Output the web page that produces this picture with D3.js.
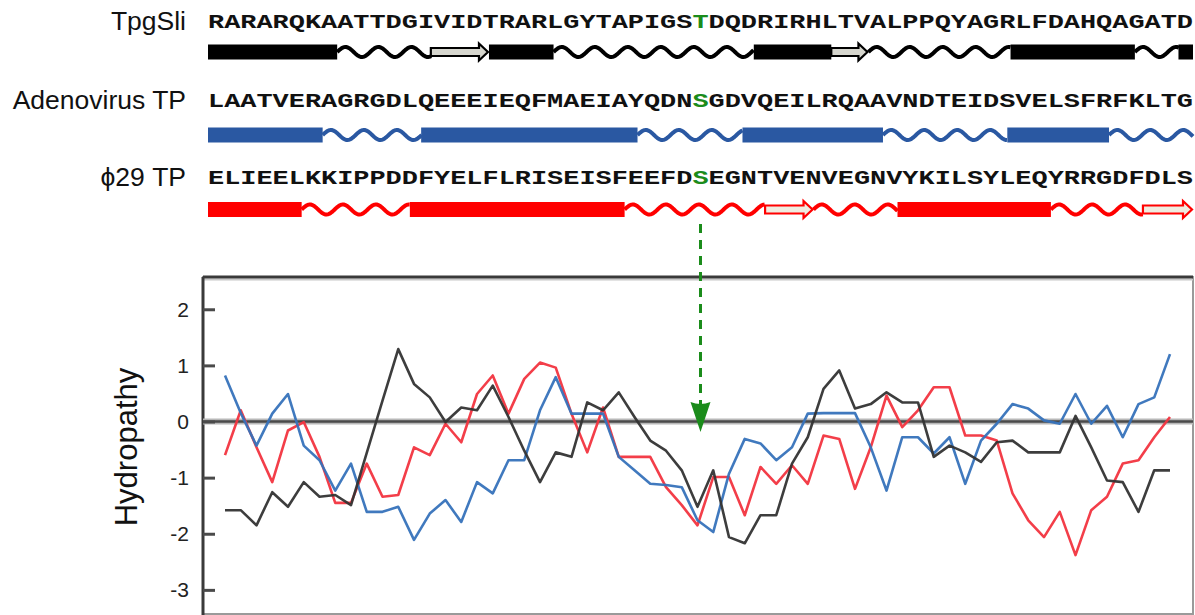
<!DOCTYPE html>
<html>
<head>
<meta charset="utf-8">
<script src="https://cdn.jsdelivr.net/npm/d3@7/dist/d3.min.js"></script>
<style>
  html, body { margin: 0; padding: 0; background: #fff; }
  svg { display: block; }
</style>
</head>
<body>
<svg id="chart" width="1195" height="615"></svg>
<script>
// ---------------- DATA ----------------
const rowLabels = ["TpgSli", "Adenovirus TP", "\u03D529 TP"];
const seqTpgSli = "RARARQKAATTDGIVIDTRARLGYTAPIGSTDQDRIRHLTVALPPQYAGRLFDAHQAGATD";
const seqAdeno  = "LAATVERAGRGDLQEEEIEQFMAEIAYQDNSGDVQEILRQAAVNDTEIDSVELSFRFKLTG";
const seqPhi29  = "ELIEELKKIPPDDFYELFLRISEISFEEFDSEGNTVENVEGNVYKILSYLEQYRRGDFDLS";
const primingIndex = 30; // 0-based: residue 31 (T / S / S) highlighted in green

// secondary structure: [type, startResidue, endResidue]  H = helix, C = coil, E = strand
const ssTpgSli = [["H",0,8],["C",8,13.8],["E",13.8,17.4],["H",17.4,21.4],["C",21.4,33.8],["H",33.8,38.6],["E",38.6,40.9],["C",40.9,49.7],["H",49.7,57.4],["C",57.4,60.1],["H",60.1,61]];
const ssAdeno   = [["H",0,7.1],["C",7.1,13.2],["H",13.2,26.6],["C",26.6,33.1],["H",33.1,41.8],["C",41.8,49.5],["H",49.5,55.8],["C",55.8,61]];
const ssPhi29   = [["H",0,5.8],["C",5.8,12.5],["H",12.5,25.8],["C",25.8,34.5],["E",34.5,37.5],["C",37.5,42.7],["H",42.7,52.2],["C",52.2,57.9],["E",57.9,61]];

// hydropathy profiles (one value per window position)
const hydroTpgSli = [-1.58,-1.58,-1.85,-1.26,-1.52,-1.08,-1.34,-1.31,-1.49,-0.56,0.37,1.29,0.67,0.43,-0.01,0.25,0.2,0.64,0.08,-0.52,-1.08,-0.55,-0.63,0.34,0.2,0.52,0.08,-0.34,-0.52,-0.87,-1.52,-0.87,-2.06,-2.17,-1.67,-1.67,-0.75,-0.28,0.58,0.91,0.23,0.31,0.52,0.34,0.34,-0.63,-0.43,-0.55,-0.72,-0.37,-0.34,-0.55,-0.55,-0.55,0.1,-0.46,-1.05,-1.08,-1.61,-0.87,-0.87];
const hydroAdeno   = [0.82,0.15,-0.43,0.14,0.49,-0.43,-0.69,-1.23,-0.75,-1.61,-1.61,-1.52,-2.11,-1.64,-1.4,-1.79,-1.08,-1.28,-0.69,-0.69,0.2,0.79,0.14,0.14,0.14,-0.63,-0.87,-1.11,-1.13,-1.17,-1.76,-1.97,-0.93,-0.31,-0.39,-0.69,-0.46,0.14,0.15,0.15,0.15,-0.46,-1.23,-0.28,-0.28,-0.57,-0.28,-1.11,-0.34,-0.04,0.31,0.23,0.02,-0.04,0.49,-0.04,0.28,-0.28,0.31,0.43,1.2];
const hydroPhi29   = [-0.6,0.2,-0.46,-1.08,-0.16,-0.01,-0.63,-1.45,-1.45,-0.75,-1.34,-1.31,-0.46,-0.6,-0.04,-0.37,0.49,0.82,0.14,0.76,1.05,0.96,0.14,-0.55,0.25,-0.63,-0.63,-0.63,-1.17,-1.49,-1.85,-0.99,-0.99,-1.67,-0.81,-1.11,-0.78,-1.11,-0.25,-0.31,-1.2,-0.46,0.46,-0.1,0.2,0.61,0.61,-0.25,-0.25,-0.34,-1.28,-1.76,-2.06,-1.61,-2.38,-1.58,-1.34,-0.75,-0.69,-0.28,0.08];
const yTicks = [-3, -2, -1, 0, 1, 2];
const yLabel = "Hydropathy";

// ---------------- STYLE / LAYOUT ----------------
const colors = { tpg: "#000000", adeno: "#2a58a2", phi: "#ff0000" };
const lineColors = { tpg: "#333333", adeno: "#3672bb", phi: "#f2343f" };
const strandFill = { tpg: "#d6d6ce", adeno: "#e8e8e0", phi: "#efece0" };
const green = "#1b8c1b";

const svg = d3.select("#chart");
const seqX = d3.scaleLinear().domain([0, 61]).range([208, 1193]);

const rows = [
  { label: rowLabels[0], seq: seqTpgSli, ss: ssTpgSli, key: "tpg",   textY: 28,  trackY: 52 },
  { label: rowLabels[1], seq: seqAdeno,  ss: ssAdeno,  key: "adeno", textY: 107, trackY: 135 },
  { label: rowLabels[2], seq: seqPhi29,  ss: ssPhi29,  key: "phi",   textY: 184, trackY: 209.5 }
];

const helixH = 15, strandBodyH = 8, strandHeadH = 17, headLen = 10;
const coilAmp = 5, coilLambda = 33;

rows.forEach(r => {
  // row label
  svg.append("text")
    .attr("x", 186).attr("y", r.textY + 2)
    .attr("text-anchor", "end")
    .attr("font-family", "Liberation Sans, Arial, sans-serif")
    .attr("font-size", 26.5)
    .attr("fill", "#111")
    .text(r.label);

  // sequence
  const t = svg.append("text")
    .attr("x", seqX(0)).attr("y", r.textY)
    .attr("font-family", "'Courier New', 'Liberation Mono', monospace")
    .attr("font-weight", "bold")
    .attr("font-size", 20)
    .attr("fill", "#111")
    .attr("textLength", seqX(61) - seqX(0))
    .attr("lengthAdjust", "spacingAndGlyphs");
  t.append("tspan").text(r.seq.slice(0, primingIndex));
  t.append("tspan").attr("fill", green).text(r.seq[primingIndex]);
  t.append("tspan").text(r.seq.slice(primingIndex + 1));

  // secondary structure track
  const g = svg.append("g");
  const col = colors[r.key];
  r.ss.forEach(([type, s, e]) => {
    const x0 = seqX(s), x1 = seqX(e), cy = r.trackY;
    if (type === "H") {
      g.append("rect").attr("x", x0).attr("y", cy - helixH / 2)
        .attr("width", x1 - x0).attr("height", helixH).attr("fill", col);
    } else if (type === "C") {
      const pts = d3.range(x0, x1 + 0.5, 1).map(x => [x, cy - coilAmp * Math.sin(2 * Math.PI * (x - x0) / coilLambda)]);
      g.append("path").attr("d", d3.line()(pts))
        .attr("fill", "none").attr("stroke", col).attr("stroke-width", 4)
        .attr("stroke-linejoin", "round");
    } else if (type === "E") {
      const xh = x1 - headLen;
      const p = [
        [x0, cy - strandBodyH / 2], [xh, cy - strandBodyH / 2], [xh, cy - strandHeadH / 2],
        [x1 - 1, cy], [xh, cy + strandHeadH / 2], [xh, cy + strandBodyH / 2], [x0, cy + strandBodyH / 2]
      ];
      g.append("path").attr("d", d3.line()(p) + "Z")
        .attr("fill", strandFill[r.key]).attr("stroke", col).attr("stroke-width", 2.2)
        .attr("stroke-linejoin", "miter");
    }
  });
});

// ---------------- HYDROPATHY PLOT ----------------
const frame = { left: 203, top: 277, right: 1193, bottom: 614 };
const x = d3.scaleLinear().domain([0, hydroAdeno.length - 1]).range([225, 1170]);
const y = d3.scaleLinear().domain([-3.43, 2.575]).range([frame.bottom, frame.top]);

// frame (light right/bottom, dark left/top)
svg.append("rect")
  .attr("x", frame.left).attr("y", frame.top)
  .attr("width", frame.right - frame.left).attr("height", frame.bottom - frame.top)
  .attr("fill", "none").attr("stroke", "#9a9a9a").attr("stroke-width", 2);
svg.append("line").attr("x1", frame.left).attr("x2", frame.right).attr("y1", frame.top + 2.5).attr("y2", frame.top + 2.5)
  .attr("stroke", "#c8c8c8").attr("stroke-width", 2);
svg.append("line").attr("x1", frame.left).attr("x2", frame.right).attr("y1", frame.top).attr("y2", frame.top)
  .attr("stroke", "#3a3a3a").attr("stroke-width", 3);
svg.append("line").attr("x1", frame.left).attr("x2", frame.left).attr("y1", frame.top).attr("y2", frame.bottom + 1)
  .attr("stroke", "#3a3a3a").attr("stroke-width", 3);

// zero line
svg.append("line").attr("x1", frame.left).attr("x2", frame.right).attr("y1", y(0)).attr("y2", y(0))
  .attr("stroke", "#b8b8b8").attr("stroke-width", 6);
svg.append("line").attr("x1", frame.left).attr("x2", frame.right).attr("y1", y(0)).attr("y2", y(0))
  .attr("stroke", "#4a4a4a").attr("stroke-width", 2.5);

// axis
const axis = d3.axisLeft(y).tickValues(yTicks).tickSize(-12).tickPadding(14).tickFormat(d => String(d));
const ax = svg.append("g").attr("transform", `translate(${frame.left},0)`).call(axis);
ax.select(".domain").remove();
ax.selectAll(".tick line").attr("stroke", "#4a4a4a").attr("stroke-width", 3);
ax.selectAll(".tick text")
  .attr("font-family", "Liberation Sans, Arial, sans-serif")
  .attr("font-size", 21).attr("fill", "#222");

// y label
svg.append("text")
  .attr("transform", `translate(137,447) rotate(-90)`)
  .attr("text-anchor", "middle")
  .attr("font-family", "Liberation Sans, Arial, sans-serif")
  .attr("font-size", 31).attr("fill", "#111")
  .text(yLabel);

// lines
const line = d3.line().x((d, i) => x(i)).y(d => y(d));
[["phi", hydroPhi29], ["adeno", hydroAdeno], ["tpg", hydroTpgSli]].forEach(([k, data]) => {
  svg.append("path").datum(data).attr("d", line)
    .attr("fill", "none").attr("stroke", lineColors[k]).attr("stroke-width", 2.6)
    .attr("stroke-linejoin", "round").attr("opacity", 0.95);
});

// priming-residue arrow
const ax0 = seqX(primingIndex + 0.5);
svg.append("line").attr("x1", ax0).attr("x2", ax0).attr("y1", 224).attr("y2", 404)
  .attr("stroke", green).attr("stroke-width", 3).attr("stroke-dasharray", "9,7");
svg.append("path")
  .attr("d", `M${ax0 - 10},402 Q${ax0},406 ${ax0 + 10},402 L${ax0},432 Z`)
  .attr("fill", green);
</script>
</body>
</html>
